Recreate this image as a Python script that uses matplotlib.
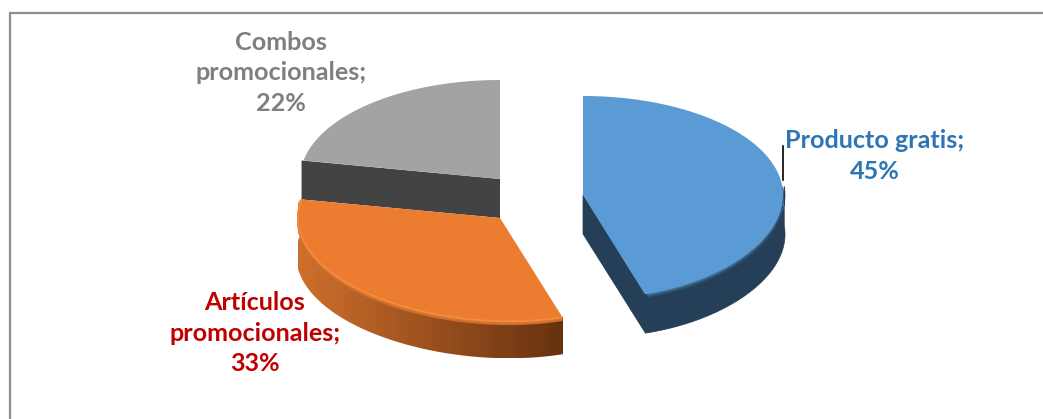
import matplotlib
matplotlib.use('Agg')
import matplotlib.pyplot as plt
import numpy as np
from matplotlib.colors import to_rgb
from matplotlib.patches import Polygon

plt.rcParams['font.family'] = ['Lato', 'DejaVu Sans']

##########
# data

categories = ['Producto gratis', 'Artículos\npromocionales', 'Combos\npromocionales']
values = [45, 33, 22]
label_colors = ['#2e75b6', '#c00000', '#7f7f7f']
top_colors = ['#5b9bd5', '#ec7c30', '#a3a3a3']

# wedge centres in figure pixels, the slices are pulled apart
centers = [(583, 195), (500, 218), (500, 179)]
radii = [(200, 99), (202, 99), (200, 99)]
depth = 39
label_pos = [(875, 156), (255, 333), (281, 73)]


def arc(cx, cy, rx, ry, a0, a1, n=200):
    # angles are clockwise from 12 o'clock, y axis points down
    deg = np.linspace(a0, a1, n)
    t = np.radians(deg)
    # the near edge sags a little to the right of centre (perspective)
    sag = 5 * np.exp(-((deg - 162) / 42) ** 2)
    return np.column_stack([cx + rx * np.sin(t), cy - ry * np.cos(t) + sag])


def wedge_pts(cx, cy, rx, ry, a0, a1):
    return np.vstack([[cx, cy], arc(cx, cy, rx, ry, a0, a1)])


def gradient_wall(ax, pts, c0, c1, x0, x1):
    # horizontal colour ramp clipped to the wall outline
    c0 = np.array(to_rgb(c0))
    c1 = np.array(to_rgb(c1))
    f = np.linspace(0, 1, 256)[None, :, None]
    img = c0 + (c1 - c0) * f
    ymin, ymax = pts[:, 1].min(), pts[:, 1].max()
    im = ax.imshow(img, extent=(x0, x1, ymax, ymin), aspect='auto', zorder=2)
    im.set_clip_path(Polygon(pts, transform=ax.transData))


def soft_edge(ax, pts, c0, c1, width=5):
    # fades the top colour into the rim over a few pixels
    c0 = np.array(to_rgb(c0))
    c1 = np.array(to_rgb(c1))
    for k in range(width):
        col = c0 + (c1 - c0) * (k + 1) / (width + 1)
        ax.plot(pts[:, 0], pts[:, 1] + k, color=col, lw=1.2, zorder=2.5,
                solid_capstyle='butt')


fig = plt.figure(figsize=(10.43, 4.19), dpi=100)
ax = fig.add_axes([0, 0, 1, 1])
ax.set_xlim(0, 1043)
ax.set_ylim(419, 0)
ax.axis('off')

# chart frame
ax.plot([9.5, 9.5, 1043], [419, 13.5, 13.5], color='#8e8e8e', lw=1.6, zorder=1,
        solid_joinstyle='miter')

angles = np.concatenate([[0], np.cumsum(values) / np.sum(values) * 360])

##########
# combos slice: flat dark cut face below the top

cx, cy = centers[2]
rx, ry = radii[2]
a0, a1 = angles[2], angles[3]
p = arc(cx, cy, rx, ry, a0, a0, 1)[0]
ax.add_patch(Polygon([(p[0] - 2, p[1]), (cx, cy), (cx, cy + 39), (p[0] - 2, p[1] + 39)],
                     fc='#434343', ec='none', zorder=2))
ax.add_patch(Polygon(wedge_pts(cx, cy, rx, ry, a0, a1), fc=top_colors[2], ec='none', zorder=3))

##########
# articulos slice: rim with a brown ramp

cx, cy = centers[1]
rx, ry = radii[1]
a0, a1 = angles[1], angles[2]
front = arc(cx, cy, rx, ry, a0, a1)
outer = arc(cx, cy, rx + 2, ry, a0, a1)
wall = np.vstack([outer, outer[::-1] + [0, depth - 2]])
gradient_wall(ax, wall, '#673210', '#cf6f2c', cx + rx * np.sin(np.radians(a0)), cx - rx)
soft_edge(ax, front, '#f58a3c', '#c4682a', width=4)
ax.add_patch(Polygon(wedge_pts(cx, cy, rx, ry, a0, a1), fc=top_colors[1], ec='none', zorder=3))
# lighter bevel along the front edge
ax.plot(front[:, 0], front[:, 1], color='#f58a3c', lw=1.4, zorder=4, solid_capstyle='butt')

##########
# producto slice: dark rim and cut face

cx, cy = centers[0]
rx, ry = radii[0]
a0, a1 = angles[0], angles[1]
p = arc(cx, cy, rx, ry, a1, a1, 1)[0]
rim = '#243f57'
front = arc(cx, cy, rx, ry, 85, a1)
outer = arc(cx, cy, rx + 2, ry, 85, a1)
# cut face and rim share an outline so no seam shows between them
body = np.vstack([[(cx, cy)], outer[::-1], outer + [0, depth], [(cx, cy + depth)]])
ax.add_patch(Polygon(body, fc=rim, ec=rim, lw=0.5, zorder=2))
soft_edge(ax, front[:-2], top_colors[0], rim, width=4)
ax.add_patch(Polygon(wedge_pts(cx, cy, rx, ry, a0, a1), fc=top_colors[0], ec='none', zorder=3))

# leader line for the first label
ax.plot([783, 783], [146, 180], color='black', lw=1.2, zorder=5)

##########
# labels

for name, val, col, (x, y) in zip(categories, values, label_colors, label_pos):
    ax.text(x, y, f'{name};\n{val}%', color=col, fontsize=18.1, fontweight='bold',
            ha='center', va='center', linespacing=1.42, zorder=6)

fig.savefig('out.png', dpi=100)
